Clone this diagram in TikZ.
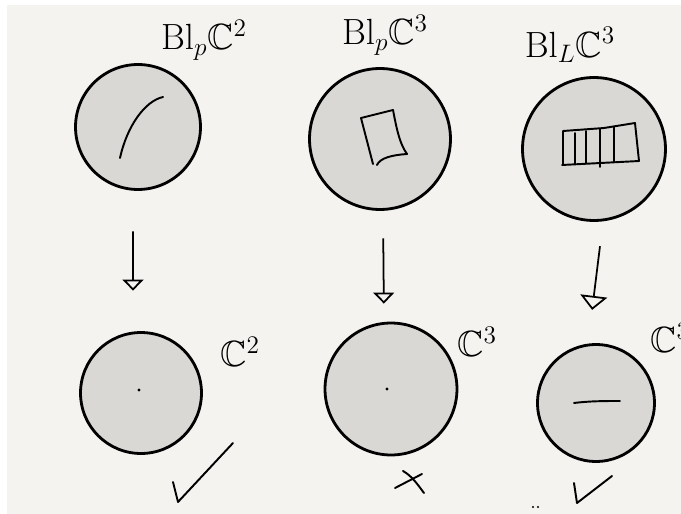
\documentclass[tikz,border=0pt]{standalone}
\usepackage{amssymb}
\usetikzlibrary{positioning,arrows.meta}
\definecolor{paper}{HTML}{F4F3F0}
\definecolor{disk}{HTML}{D9D8D5}

\begin{document}
\begin{tikzpicture}[
  x=0.02cm, y=-0.02cm,
  disc/.style={circle, draw, fill=disk, line width=1.6pt, inner sep=0pt},
  lab/.style={font=\huge, inner sep=0pt},
  sketch/.style={line width=1.1pt, line cap=round, line join=round},
  maparrow/.style={-{Triangle[open,length=2.2mm,width=4.2mm,line width=1pt]}, line width=1pt}
]
  \useasboundingbox (0,0) rectangle (681,514);
  \clip (0,0) rectangle (681,514);
  \fill[white] (0,0) rectangle (681,514);
  \fill[paper] (7,5) rectangle (681,514);

  % top row: the blow-ups
  \node[disc, minimum size=2.50cm] (blp2) at (138,127) {};
  \node[disc, minimum size=2.82cm] (blp3) at (380,139) {};
  \node[disc, minimum size=2.86cm] (bll3) at (594,149) {};
  % bottom row
  \node[disc, minimum size=2.42cm] (c2) at (141,393) {};
  \node[disc, minimum size=2.64cm] (c3) at (391,389) {};
  \node[disc, minimum size=2.34cm] (c3l) at (596,403) {};

  \node[lab] (tblp2) at (204,40) {$\mathrm{Bl}_p\mathbb{C}^2$};
  \node[lab] (tblp3) at (385,35) {$\mathrm{Bl}_p\mathbb{C}^3$};
  \node[lab] (tbll3) at (570,45) {$\mathrm{Bl}_L\mathbb{C}^3$};
  \node[lab] (tc2) at (240,352) {$\mathbb{C}^2$};
  \node[lab] (tc3) at (477,342) {$\mathbb{C}^3$};
  \node[lab, anchor=west] (tc3l) at (650,338) {$\mathbb{C}^3$};

  \draw[maparrow, shorten <=0.81cm, shorten >=0.81cm]
    ([xshift=-0.10cm]blp2.south) -- ([xshift=-0.16cm]c2.north);
  \draw[maparrow, shorten <=0.55cm, shorten >=0.36cm]
    ([xshift=0.06cm]blp3.south) -- ([xshift=-0.14cm]c3.north);
  \draw[maparrow, -{Triangle[open,length=2.8mm,width=5.4mm,line width=1pt]}, shorten <=0.49cm, shorten >=0.67cm]
    ([xshift=0.18cm]bll3.south) -- ([xshift=-0.16cm]c3l.north);

  % exceptional loci
  \draw[sketch] (120,158) .. controls (127,126) and (145,101) .. (163,97);
  \draw[sketch] (361,118) -- (393,110) .. controls (396,125) and (399,143) .. (407,154);
  \draw[sketch] (361,118) -- (373,164);
  \draw[sketch] (407,154) .. controls (392,155) and (380,158) .. (377,165);
  \draw[sketch] (563,165) -- (563,131) -- (604,128) -- (635,123) -- (639,161) -- (562,165);
  \foreach \xa/\ya/\yb in {575/133/164, 586/131/163, 600/129/167, 614/127/162}
    \draw[sketch] (\xa,\ya) -- (\xa,\yb);

  % centres
  \fill (139,390) circle (0.9pt);
  \fill (387,389) circle (0.9pt);
  \draw[sketch] (574,403) .. controls (590,401) and (605,401) .. (620,401);

  % marks
  \draw[sketch] (173,482) -- (178,502) -- (233,443);
  \draw[sketch] (395,488) -- (422,474);
  \draw[sketch] (403,471) .. controls (412,476) and (418,485) .. (424,493);
  \draw[sketch] (574,483) -- (577,503) -- (612,476);
  \fill (533,507) circle (0.6pt);
  \fill (538,507) circle (0.6pt);
\end{tikzpicture}
\end{document}
